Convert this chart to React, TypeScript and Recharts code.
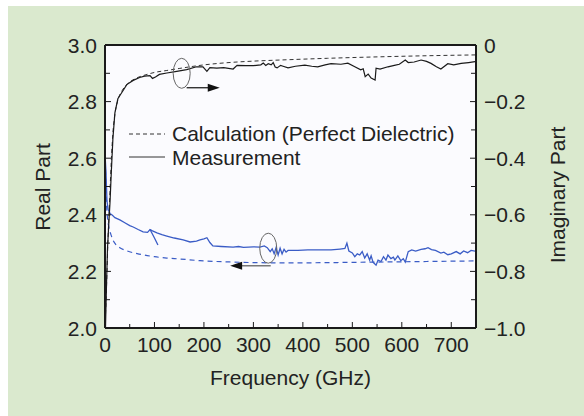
import React from 'react';
import {
  LineChart,
  Line,
  XAxis,
  YAxis,
  CartesianGrid,
  ReferenceLine,
  ReferenceDot,
  Legend,
} from 'recharts';

const FONT = '"Liberation Sans", Arial, Helvetica, sans-serif';

// [frequency GHz, value]
const calcImag: [number, number][] = [
  [0, -1.0], [3, -0.86], [6, -0.69], [10, -0.52], [13, -0.4], [16, -0.31], [20, -0.245],
  [26, -0.195], [35, -0.16], [45, -0.138], [60, -0.12], [85, -0.104], [100, -0.097],
  [125, -0.09], [150, -0.083], [192, -0.072], [259, -0.061], [300, -0.057], [370, -0.052],
  [450, -0.047], [550, -0.042], [650, -0.038], [750, -0.035],
];

const measImag: [number, number][] = [
  [1, -1.0], [3, -0.85], [5, -0.72], [8, -0.62], [10, -0.56], [13, -0.44], [16, -0.33],
  [20, -0.24], [26, -0.19], [34, -0.168], [44, -0.14], [57, -0.125], [70, -0.115],
  [80, -0.11], [91, -0.108], [96, -0.118], [102, -0.113], [110, -0.104], [125, -0.099],
  [145, -0.093], [165, -0.087], [185, -0.077], [198, -0.077], [206, -0.093], [212, -0.08],
  [226, -0.082], [240, -0.08], [259, -0.085], [267, -0.072], [285, -0.073], [300, -0.073],
  [315, -0.07], [320, -0.064], [325, -0.072], [330, -0.066], [336, -0.07], [340, -0.062],
  [344, -0.078], [348, -0.081], [355, -0.072], [360, -0.075], [370, -0.081], [385, -0.075],
  [404, -0.071], [418, -0.075], [430, -0.077], [445, -0.07], [457, -0.066], [477, -0.068],
  [491, -0.064], [505, -0.077], [517, -0.088], [522, -0.084], [526, -0.112], [532, -0.103],
  [538, -0.117], [546, -0.124], [548, -0.082], [556, -0.085], [572, -0.077], [585, -0.072],
  [595, -0.068], [607, -0.053], [613, -0.062], [625, -0.06], [639, -0.053], [650, -0.058],
  [659, -0.065], [670, -0.077], [679, -0.085], [693, -0.066], [705, -0.07], [720, -0.065],
  [735, -0.062], [748, -0.059],
];

const calcReal: [number, number][] = [
  [1, 2.56], [3, 2.44], [5, 2.39], [8, 2.355], [12, 2.33], [16, 2.311], [22, 2.295],
  [30, 2.284], [45, 2.272], [65, 2.263], [100, 2.252], [125, 2.247], [150, 2.244],
  [192, 2.238], [259, 2.233], [368, 2.23], [450, 2.231], [550, 2.233], [650, 2.235],
  [750, 2.237],
];

const measReal: [number, number][] = [
  [0.5, 2.6], [2, 2.55], [3, 2.5], [4, 2.45], [6, 2.42], [10, 2.405], [15, 2.398],
  [20, 2.39], [30, 2.382], [40, 2.372], [50, 2.362], [57, 2.357], [67, 2.348], [77, 2.34],
  [86, 2.338], [91, 2.348], [96, 2.343], [105, 2.336], [115, 2.33], [125, 2.325],
  [140, 2.318], [158, 2.311], [172, 2.304], [185, 2.307], [192, 2.311], [200, 2.315],
  [206, 2.319], [212, 2.302], [218, 2.29], [235, 2.288], [259, 2.286], [270, 2.288],
  [280, 2.285], [300, 2.287], [313, 2.286], [322, 2.29], [328, 2.284], [334, 2.27],
  [338, 2.28], [342, 2.262], [346, 2.285], [350, 2.258], [354, 2.282], [358, 2.262],
  [362, 2.278], [366, 2.268], [370, 2.274], [390, 2.274], [410, 2.276], [440, 2.276],
  [457, 2.276], [475, 2.279], [485, 2.281], [489, 2.3], [493, 2.272], [500, 2.265],
  [505, 2.252], [510, 2.262], [515, 2.258], [520, 2.27], [525, 2.247], [530, 2.262],
  [535, 2.24], [538, 2.255], [542, 2.232], [548, 2.222], [552, 2.24], [558, 2.235],
  [563, 2.252], [568, 2.24], [572, 2.258], [578, 2.245], [583, 2.25], [586, 2.24],
  [592, 2.255], [598, 2.238], [603, 2.245], [607, 2.233], [613, 2.27], [620, 2.276],
  [628, 2.272], [639, 2.278], [647, 2.28], [653, 2.284], [660, 2.277], [668, 2.274],
  [679, 2.265], [685, 2.268], [693, 2.259], [700, 2.262], [710, 2.27], [718, 2.262],
  [725, 2.272], [733, 2.266], [740, 2.274], [748, 2.272],
];

// short stray segment of the measured real part near 100 GHz
const measRealSpur: [number, number][] = [[91, 2.348], [100, 2.318], [107, 2.293]];

const freqTicks = [0, 50, 100, 150, 200, 250, 300, 350, 400, 450, 500, 550, 600, 650, 700, 750];
const freqLabels = [0, 100, 200, 300, 400, 500, 600, 700];
const realTicks = [2.0, 2.1, 2.2, 2.3, 2.4, 2.5, 2.6, 2.7, 2.8, 2.9, 3.0];
const realLabels = [2.0, 2.2, 2.4, 2.6, 2.8, 3.0];
const imagTicks = [0, -0.1, -0.2, -0.3, -0.4, -0.5, -0.6, -0.7, -0.8, -0.9, -1.0];
const imagLabels = [0, -0.2, -0.4, -0.6, -0.8, -1.0];

const toPoints = (arr: [number, number][]) => arr.map(([f, v]) => ({ f, v }));

const INK = '#1a1a1a';
const BLUE = '#3a5cc6';

const FreqTick = (props: any) => {
  const { x, y, payload } = props;
  const major = freqLabels.includes(payload.value);
  return (
    <g>
      <line x1={x} y1={y} x2={x} y2={y - (major ? 6 : 4)} stroke={INK} />
      {major && (
        <text x={x} y={y + 24} textAnchor="middle" fontSize={21} fontFamily={FONT} fill="#222">
          {payload.value}
        </text>
      )}
    </g>
  );
};

const RealTick = (props: any) => {
  const { x, y, payload } = props;
  const major = realLabels.includes(payload.value);
  return (
    <g>
      <line x1={x} y1={y} x2={x + (major ? 6 : 5)} y2={y} stroke={INK} />
      {major && (
        <text x={x - 8} y={y + 7.5} textAnchor="end" fontSize={21} fontFamily={FONT} fill="#222">
          {payload.value.toFixed(1)}
        </text>
      )}
    </g>
  );
};

const ImagTick = (props: any) => {
  const { x, y, payload } = props;
  const major = imagLabels.includes(payload.value);
  const label = payload.value === 0 ? '0' : payload.value.toFixed(1).replace('-', '\u2212');
  return (
    <g>
      <line x1={x} y1={y} x2={x - (major ? 6 : 5)} y2={y} stroke={INK} />
      {major && (
        <text x={x + 8} y={y + 7.5} textAnchor="start" fontSize={21} fontFamily={FONT} fill="#222">
          {label}
        </text>
      )}
    </g>
  );
};

const LegendBox = (props: any) => {
  const items = (props.payload || []).filter((p: any) => p.type !== 'none');
  return (
    <div style={{ fontFamily: FONT, fontSize: 21, color: '#222', lineHeight: '23.5px' }}>
      {items.map((item: any) => (
        <div key={item.value} style={{ display: 'flex', alignItems: 'center', whiteSpace: 'nowrap' }}>
          <svg width={36} height={10} style={{ marginRight: 7 }}>
            <line
              x1={0}
              y1={5}
              x2={36}
              y2={5}
              stroke="#333"
              strokeWidth={1}
              strokeDasharray={item.payload?.strokeDasharray}
            />
          </svg>
          <span>{item.value}</span>
        </div>
      ))}
    </div>
  );
};

const ellipse = (p: any) => (
  <ellipse cx={p.cx} cy={p.cy} rx={8.5} ry={15} fill="none" stroke="#666" strokeWidth={1} />
);
const headRight = (p: any) => (
  <polygon points={`${p.cx},${p.cy} ${p.cx - 12},${p.cy - 4} ${p.cx - 12},${p.cy + 4}`} fill="#111" />
);
const headLeft = (p: any) => (
  <polygon points={`${p.cx},${p.cy} ${p.cx + 12},${p.cy - 4} ${p.cx + 12},${p.cy + 4}`} fill="#111" />
);

const titleStyle: React.CSSProperties = {
  position: 'absolute',
  fontFamily: FONT,
  fontSize: 21,
  lineHeight: '21px',
  color: '#222',
  whiteSpace: 'nowrap',
};

export default function App() {
  return (
    <div style={{ position: 'relative', width: 584, height: 416, overflow: 'hidden' }}>
      <style>{'body{margin:0}'}</style>
      <div style={{ position: 'absolute', left: 8, top: 6, width: 576, height: 410, background: '#dae9ce' }} />
      <LineChart
        width={584}
        height={416}
        margin={{ top: 45, right: 48, bottom: 48, left: 45 }}
        style={{ position: 'absolute', left: 0, top: 0 }}
      >
        <CartesianGrid horizontal={false} vertical={false} fill="#fbfbfe" />
        <XAxis
          type="number"
          dataKey="f"
          domain={[0, 750]}
          ticks={freqTicks}
          interval={0}
          tickSize={0}
          tickMargin={0}
          tickLine={false}
          axisLine={{ stroke: INK, strokeWidth: 2 }}
          tick={<FreqTick />}
          height={40}
          allowDataOverflow
        />
        <YAxis
          type="number"
          domain={[2, 3]}
          ticks={realTicks}
          interval={0}
          tickSize={0}
          tickMargin={0}
          tickLine={false}
          axisLine={{ stroke: INK, strokeWidth: 2 }}
          tick={<RealTick />}
          width={60}
          allowDataOverflow
        />
        <YAxis
          yAxisId="right"
          orientation="right"
          type="number"
          domain={[-1, 0]}
          ticks={imagTicks}
          interval={0}
          tickSize={0}
          tickMargin={0}
          tickLine={false}
          axisLine={{ stroke: INK, strokeWidth: 2 }}
          tick={<ImagTick />}
          width={60}
          allowDataOverflow
        />
        <ReferenceLine y={3} stroke={INK} strokeWidth={2} />

        <Line data={toPoints(calcReal)} dataKey="v" name="calcReal" type="monotone" stroke={BLUE}
          strokeWidth={1.2} strokeDasharray="5 4" dot={false} activeDot={false} legendType="none" isAnimationActive={false} />
        <Line data={toPoints(measReal)} dataKey="v" name="measReal" type="linear" stroke={BLUE}
          strokeWidth={1.3} dot={false} activeDot={false} legendType="none" isAnimationActive={false} />
        <Line data={toPoints(measRealSpur)} dataKey="v" name="measRealSpur" type="linear" stroke={BLUE}
          strokeWidth={1.3} dot={false} activeDot={false} legendType="none" isAnimationActive={false} />

        <Line yAxisId="right" data={toPoints(calcImag)} dataKey="v" name="Calculation (Perfect Dielectric)"
          type="monotone" stroke="#333" strokeWidth={1} strokeDasharray="4 3" dot={false} activeDot={false}
          isAnimationActive={false} />
        <Line yAxisId="right" data={toPoints(measImag)} dataKey="v" name="Measurement" type="linear"
          stroke={INK} strokeWidth={1.2} dot={false} activeDot={false} isAnimationActive={false} />

        <ReferenceDot yAxisId="right" x={155} y={-0.1} shape={ellipse} />
        <ReferenceLine yAxisId="right" segment={[{ x: 165, y: -0.151 }, { x: 225, y: -0.151 }]} stroke="#222" strokeWidth={1.3} />
        <ReferenceDot yAxisId="right" x={232} y={-0.151} shape={headRight} />

        <ReferenceDot x={330} y={2.282} shape={ellipse} />
        <ReferenceLine segment={[{ x: 335, y: 2.22 }, { x: 260, y: 2.22 }]} stroke="#777" strokeWidth={1.5} />
        <ReferenceDot x={253} y={2.22} shape={headLeft} />

        <Legend
          layout="vertical"
          align="center"
          verticalAlign="middle"
          content={<LegendBox />}
          wrapperStyle={{ left: 129, top: 122, width: 'auto', height: 'auto' }}
        />
      </LineChart>
      <div style={{ ...titleStyle, left: 290.5, top: 367, transform: 'translateX(-50%)' }}>Frequency (GHz)</div>
      <div style={{ ...titleStyle, left: 42, top: 187, transform: 'translate(-50%, -50%) rotate(-90deg)' }}>Real Part</div>
      <div style={{ ...titleStyle, left: 557, top: 195, transform: 'translate(-50%, -50%) rotate(-90deg)' }}>Imaginary Part</div>
    </div>
  );
}
